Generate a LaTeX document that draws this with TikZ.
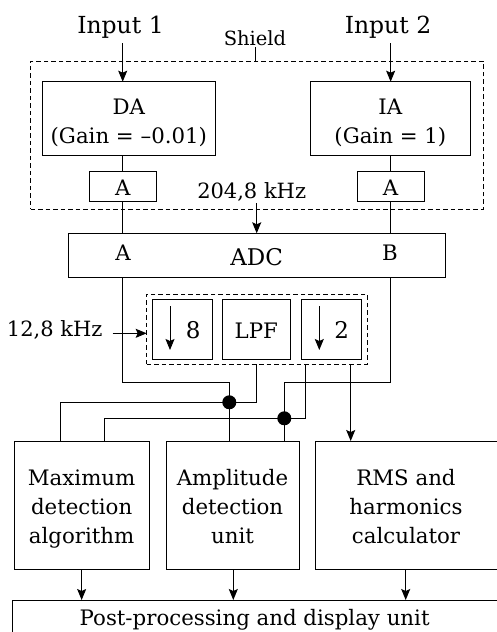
\documentclass[tikz,border=0pt]{standalone}
\usepackage{fontspec}
\setmainfont{DejaVu Serif}
\usetikzlibrary{arrows.meta,calc}
\begin{document}
\begin{tikzpicture}[x=1pt,y=-1pt,
  every node/.style={font=\fontsize{21.3}{28.7}\selectfont},
  box/.style={draw,line width=1pt,inner sep=0pt,outer sep=0pt,align=center},
  dbox/.style={draw,line width=1pt,dash pattern=on 4.5pt off 3pt,inner sep=0pt,outer sep=0pt},
  lbl/.style={inner sep=1pt,anchor=base},
  wire/.style={line width=1pt},
  arr/.style={line width=1pt,-{Stealth[length=11pt,width=9pt,inset=2pt]}},
  dot/.style={circle,fill=black,inner sep=0pt,minimum size=14pt}]
\useasboundingbox (0,0) rectangle (496,632);
% shield
\node[dbox,minimum width=452.3pt,minimum height=148pt] (shield) at (256.85,135) {};
\node[lbl,font=\fontsize{19.5}{22}\selectfont] (shl) at (255,45) {Shield};
\draw[wire] ([yshift=-1pt]shl.south) -- (shl.south |- shield.north);
% inputs
\node[lbl,font=\fontsize{23.5}{28}\selectfont] (in1) at (120.5,33) {Input 1};
\node[lbl,font=\fontsize{23.5}{28}\selectfont] (in2) at (388,33) {Input 2};
% amplifiers
\node[box,minimum width=172.3pt,minimum height=74pt,text height=53.2pt,text depth=4pt] (da) at (128.85,118.7) {DA\\(Gain = –0.01)};
\node[box,minimum width=159.3pt,minimum height=74pt,text height=53.2pt,text depth=4pt] (ia) at (390.35,118.7) {IA\\(Gain = 1)};
\node[box,minimum width=66.7pt,minimum height=29.3pt,text height=17.3pt,text depth=0pt] (a1) at (122.7,186.35) {A};
\node[box,minimum width=66.7pt,minimum height=29.3pt,text height=17.3pt,text depth=0pt] (a2) at (390.65,186.35) {A};
\draw[arr] ([yshift=-4pt]in1.south -| a1.center) -- (a1.center |- da.north);
\draw[arr] ([yshift=-4pt]in2.south -| a2.center) -- (a2.center |- ia.north);
\draw[wire] (a1.center |- da.south) -- (a1.north);
\draw[wire] (a2.center |- ia.south) -- (a2.north);
% ADC
\node[lbl,font=\fontsize{21}{24}\selectfont] (f1) at (251.7,198.3) {204,8 kHz};
\node[box,minimum width=376.7pt,minimum height=44pt] (adc) at (256.65,255.3) {};
\node[lbl,font=\fontsize{23}{26}\selectfont] (adct) at (256.7,265.7) {ADC};
\node[lbl] (adca) at (123,260) {A};
\node[lbl] (adcb) at (390,260) {B};
\draw[arr] ([yshift=-1pt]f1.south -| adct.center) -- (adct.center |- adc.north);
\draw[wire] (a1.south) -- (a1.center |- adc.north);
\draw[wire] (a2.south) -- (a2.center |- adc.north);
% decimation group
\node[dbox,minimum width=220.6pt,minimum height=70pt] (grp) at (257,329) {};
\node[box,minimum width=60pt,minimum height=59.7pt] (d8) at (182.3,329.15) {};
\node[box,minimum width=67.3pt,minimum height=59.7pt,text height=18.3pt,text depth=0pt] (lpf) at (256.35,329.15) {LPF};
\node[box,minimum width=59.3pt,minimum height=59.7pt] (d2) at (331.35,329.15) {};
\node[lbl,font=\fontsize{23}{26}\selectfont] (n8) at (193.3,338.3) {8};
\node[lbl,font=\fontsize{23}{26}\selectfont] (n2) at (341.7,338.3) {2};
\draw[arr] ([xshift=17.7pt,yshift=-6.7pt]d8.north west) -- ([xshift=17.7pt,yshift=9pt]d8.south west);
\draw[arr] ([xshift=17.6pt,yshift=-6.7pt]d2.north west) -- ([xshift=17.6pt,yshift=9pt]d2.south west);
\node[lbl,font=\fontsize{21}{24}\selectfont] (f2) at (54.7,336.7) {12,8 kHz};
\coordinate (f2a) at ([xshift=9pt]f2.east |- 0,333.3);
\draw[arr] (f2a) -- (f2a -| grp.west);
% processing boxes
\node[box,minimum width=135.3pt,minimum height=128pt,text height=80.6pt,text depth=4pt] (mx) at (81.65,505) {Maximum\\detection\\algorithm};
\node[box,minimum width=133pt,minimum height=128pt,text height=80.6pt,text depth=4pt] (amp) at (232.5,505) {Amplitude\\detection\\unit};
\node[box,minimum width=182pt,minimum height=128pt,text height=80.6pt,text depth=4pt] (rms) at (406,505) {RMS and\\harmonics\\calculator};
\node[box,minimum width=484.7pt,minimum height=38.8pt,text height=16pt,text depth=3.6pt] (post) at (254.65,619.4) {Post-processing and display unit};
% wiring
\coordinate (j1) at (229.3,402.3);
\coordinate (j2) at (284.3,418.3);
\coordinate (mA) at ([xshift=46pt]mx.north west);
\coordinate (mB) at ([xshift=90pt]mx.north west);
\draw[wire] (a1.center |- adc.south) |- ([yshift=19.6pt]j1) -- (j1 |- amp.north);
\draw[wire] (a2.center |- adc.south) |- ([yshift=35.6pt]j2) -- (j2 |- amp.north);
\draw[wire] (lpf.south |- grp.south) |- (j1) -| (mA);
\draw[wire] ([xshift=3.6pt]d2.south west |- grp.south) |- (j2) -| (mB);
\draw[arr] ([xshift=-10.3pt]d2.south east |- grp.south) -- ([xshift=-10.3pt]d2.south east |- rms.north);
\node[dot] at (j1) {};
\node[dot] at (j2) {};
\draw[arr] (mx.south) -- (mx.south |- post.north);
\draw[arr] ([xshift=0.8pt]amp.south) -- ([xshift=0.8pt]amp.south |- post.north);
\draw[arr] ([xshift=-0.3pt]rms.south) -- ([xshift=-0.3pt]rms.south |- post.north);
\end{tikzpicture}
\end{document}
